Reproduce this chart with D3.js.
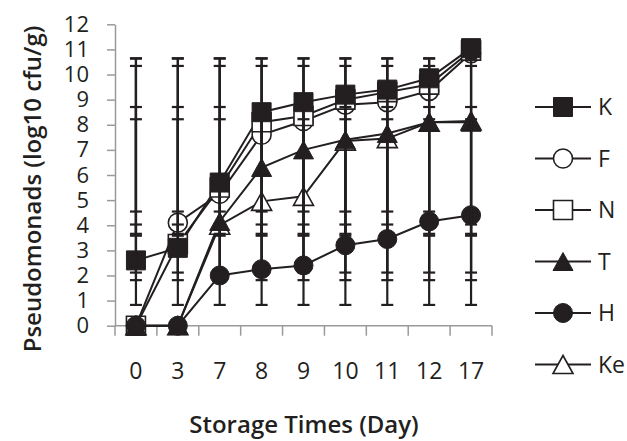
<!DOCTYPE html>
<html>
<head>
<meta charset="utf-8">
<script src="https://cdn.jsdelivr.net/npm/d3@7"></script>
<style>
    body { margin: 0; background: #fff; }
    svg { display: block; }
    text { font-family: "Open Sans", sans-serif; fill: #231f20; }
</style>
</head>
<body>
<div id="chart"></div>
<script>
// data
const days = ["0", "3", "7", "8", "9", "10", "11", "12", "17"];
const seriesNames = ["K", "F", "N", "T", "H", "Ke"];
const kValues = [2.6, 3.1, 5.7, 8.5, 8.9, 9.2, 9.4, 9.85, 11.05];
const fValues = [0, 4.1, 5.25, 7.6, 8.15, 8.8, 8.9, 9.35, 10.85];
const nValues = [0, 3.25, 5.5, 8.1, 8.35, 9.0, 9.3, 9.6, 10.95];
const tValues = [0, 0, 4.15, 6.3, 7.0, 7.4, 7.65, 8.1, 8.1];
const hValues = [0, 0, 2.0, 2.25, 2.4, 3.2, 3.45, 4.15, 4.4];
const keValues = [0, 0, 4.0, 4.95, 5.15, 7.35, 7.45, 8.1, 8.15];
const yTicks = [0, 1, 2, 3, 4, 5, 6, 7, 8, 9, 10, 11, 12];

const markers = {K: "squareFilled", F: "circleOpen", N: "squareOpen", T: "triangleFilled", H: "circleFilled", Ke: "triangleOpen"};
const values = {K: kValues, F: fValues, N: nValues, T: tValues, H: hValues, Ke: keValues};

const series = seriesNames.map(name => ({name: name, values: values[name], marker: markers[name]}));

const width = 627, height = 441;
const margin = {left: 115, right: 135, top: 24.3, bottom: 115.3};

const svg = d3.select("#chart").append("svg")
    .attr("width", width)
    .attr("height", height);

const x = d3.scaleBand()
    .domain(days)
    .range([margin.left, width - margin.right])
    .padding(0);

const y = d3.scaleLinear()
    .domain([0, 12])
    .range([height - margin.bottom, margin.top]);

const axisColor = "#9a9a9a";
const ink = "#231f20";

// y axis
const yAxisG = svg.append("g")
    .attr("transform", `translate(${margin.left},0)`)
    .call(d3.axisLeft(y).tickValues(yTicks).tickSize(8).tickSizeOuter(0).tickPadding(18));
yAxisG.select(".domain").attr("stroke", axisColor).attr("stroke-width", 1.5);
yAxisG.selectAll(".tick line").attr("stroke", axisColor).attr("stroke-width", 1.5);
yAxisG.selectAll(".tick text")
    .attr("font-size", 22)
    .attr("font-family", "Open Sans, sans-serif")
    .attr("fill", ink);

// x axis: labels at band centres, ticks at band edges
const xAxisG = svg.append("g")
    .attr("transform", `translate(0,${y(0)})`)
    .call(d3.axisBottom(x).tickSize(0).tickPadding(37));
xAxisG.select(".domain").remove();
xAxisG.selectAll(".tick text")
    .attr("font-size", 23)
    .attr("font-family", "Open Sans, sans-serif")
    .attr("fill", ink);

const edges = days.map(d => x(d)).concat([x(days[days.length - 1]) + x.bandwidth()]);
xAxisG.append("line")
    .attr("x1", x.range()[0])
    .attr("x2", x.range()[1])
    .attr("stroke", axisColor)
    .attr("stroke-width", 1.5);
xAxisG.selectAll(".edge")
    .data(edges)
    .join("line")
    .attr("class", "edge")
    .attr("x1", d => d)
    .attr("x2", d => d)
    .attr("y1", 0)
    .attr("y2", 10)
    .attr("stroke", axisColor)
    .attr("stroke-width", 1.5);

// axis titles
svg.append("text")
    .attr("text-anchor", "middle")
    .attr("transform", "translate(304, 433)")
    .attr("font-size", 24)
    .attr("font-weight", 600)
    .text("Storage Times (Day)");

svg.append("text")
    .attr("text-anchor", "middle")
    .attr("transform", "translate(41, 189) rotate(-90)")
    .attr("font-size", 24)
    .attr("font-weight", 600)
    .text("Pseudomonads (log10 cfu/g)");

// marker shapes
function markerPath(kind) {
    if (kind.startsWith("square")) {
        return d3.symbol(d3.symbolSquare, 19 * 19)();
    }
    if (kind.startsWith("circle")) {
        return d3.symbol(d3.symbolCircle, Math.PI * 9.5 * 9.5)();
    }
    const w = 20, h = 18;
    return `M0,${-h / 2}L${w / 2},${h / 2}L${-w / 2},${h / 2}Z`;
}

function styleMarker(sel, kind) {
    const filled = kind.endsWith("Filled");
    sel.attr("d", markerPath(kind))
        .attr("fill", filled ? ink : "#fff")
        .attr("stroke", ink)
        .attr("stroke-width", filled ? 1 : 1.6);
}

const cx = d => x(d) + x.bandwidth() / 2;

// series lines
const line = d3.line()
    .x((v, i) => cx(days[i]))
    .y(v => y(v));

svg.append("g")
    .selectAll("path")
    .data(series)
    .join("path")
    .attr("d", s => line(s.values))
    .attr("fill", "none")
    .attr("stroke", ink)
    .attr("stroke-width", 2);

// markers, drawn in the stacking order seen in the picture
const drawOrder = ["Ke", "F", "N", "K", "T", "H"];
const markerG = svg.append("g");
drawOrder.forEach(name => {
    const s = series.find(d => d.name === name);
    markerG.append("g")
        .selectAll("path")
        .data(s.values)
        .join("path")
        .attr("transform", (v, i) => `translate(${cx(days[i])},${y(v)})`)
        .call(styleMarker, s.marker);
});

// error bars: series mean +/- standard deviation (as the spreadsheet drew them)
const errG = svg.append("g");
series.forEach(s => {
    const m = d3.mean(s.values);
    const sd = d3.deviation(s.values);
    const lo = Math.max(0, m - sd), hi = Math.min(12, m + sd);
    const g = errG.append("g");
    g.selectAll(".bar")
        .data(days)
        .join("line")
        .attr("class", "bar")
        .attr("x1", d => cx(d))
        .attr("x2", d => cx(d))
        .attr("y1", y(lo))
        .attr("y2", y(hi))
        .attr("stroke", ink)
        .attr("stroke-width", 2.2);
    [lo, hi].forEach(v => {
        g.selectAll(null)
            .data(days)
            .join("line")
            .attr("x1", d => cx(d) - 6)
            .attr("x2", d => cx(d) + 6)
            .attr("y1", y(v))
            .attr("y2", y(v))
            .attr("stroke", ink)
            .attr("stroke-width", 2.2);
    });
});

// legend
const legendRowY = [107, 158.5, 210, 261.5, 313, 364.5];
const legend = svg.append("g")
    .selectAll("g")
    .data(series)
    .join("g")
    .attr("transform", (s, i) => `translate(563,${legendRowY[i]})`);

legend.append("line")
    .attr("x1", -28)
    .attr("x2", 28)
    .attr("stroke", ink)
    .attr("stroke-width", 2);

legend.append("path")
    .each(function(s) { d3.select(this).call(styleMarker, s.marker); });

legend.append("text")
    .attr("x", 35)
    .attr("dy", "0.36em")
    .attr("font-size", 23)
    .text(s => s.name);
</script>
</body>
</html>
